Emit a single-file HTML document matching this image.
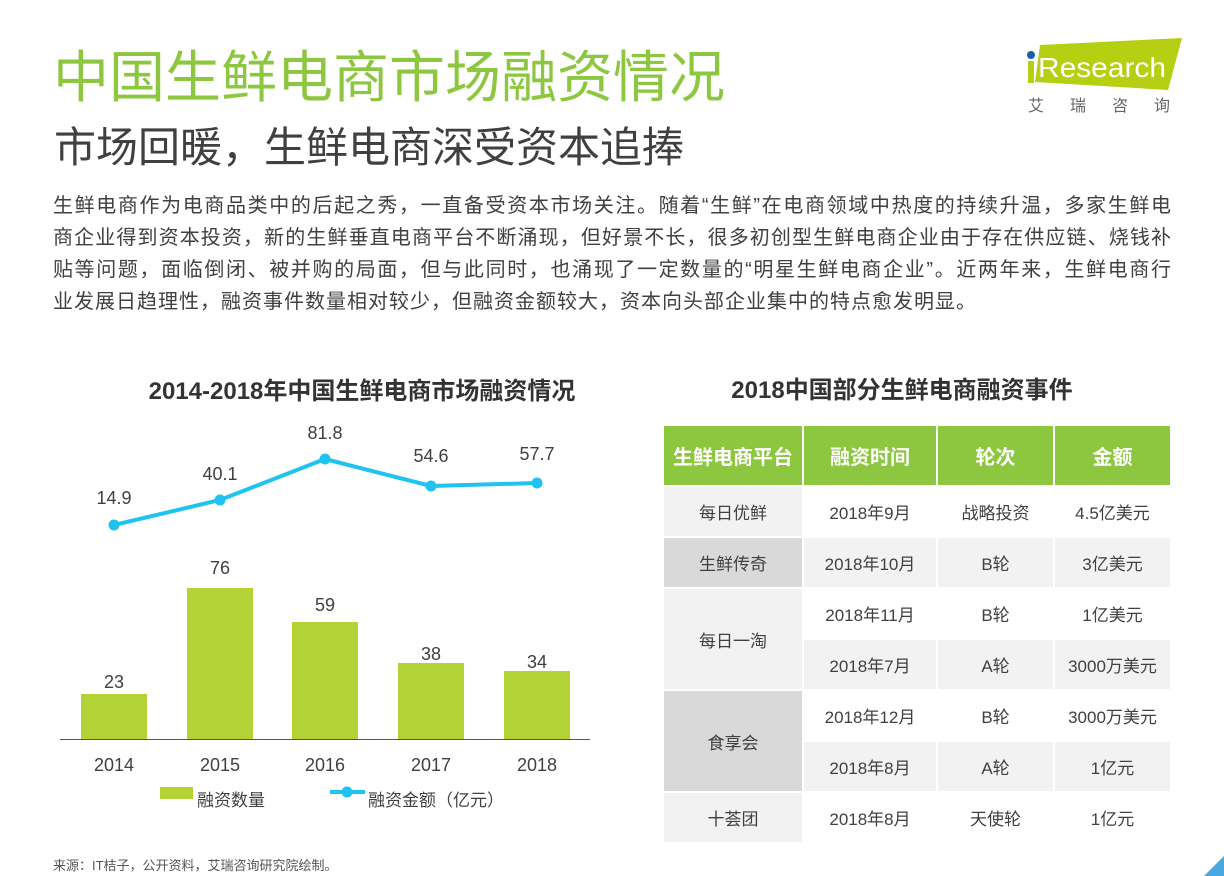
<!DOCTYPE html>
<html><head><meta charset="utf-8"><style>
*{margin:0;padding:0;box-sizing:border-box}
body{width:1224px;height:876px;background:#fff;position:relative;overflow:hidden;font-family:"Liberation Sans","Noto Sans CJK SC",sans-serif;color:#404040}
.abs{position:absolute;white-space:nowrap}
.title{left:53px;top:44px;font-size:56px;color:#8dc63f;line-height:68px}
.sub{left:54px;top:122px;font-size:42px;color:#404040;line-height:52px}
.para{left:53px;top:190px;width:1119px;font-size:20px;line-height:32px;color:#404040}
.para div{text-align:justify;text-align-last:justify;white-space:nowrap;letter-spacing:1px}
.para div.l{text-align-last:left}
.ct{font-size:24px;font-weight:bold;color:#333;text-align:center}
table{position:absolute;left:664px;top:426px;border-collapse:separate;border-spacing:2px 2px;margin:-2px}
td{text-align:center;font-size:17px;color:#404040;height:49px;padding:0}
th{background:#8dc63f;color:#fff;font-size:20px;font-weight:bold;height:59px;text-align:center}
.g1{background:#f2f2f2}.g2{background:#d9d9d9}.w{background:#fff}
</style></head><body>
<div class="abs title">中国生鲜电商市场融资情况</div>
<div class="abs sub">市场回暖，生鲜电商深受资本追捧</div>
<svg class="abs" style="left:1020px;top:30px" width="180" height="90">
<polygon points="20,15 162,8 148,60 15,52" fill="#b5cf12"/>
<circle cx="11" cy="25" r="4" fill="#1a5fa8"/>
<rect x="8" y="31" width="6" height="22" fill="#b5cf12"/>
<text x="18" y="47" font-family="Liberation Sans" font-size="28" fill="#fff" textLength="128" lengthAdjust="spacingAndGlyphs">Research</text>
<text x="8" y="81" font-family="Noto Sans CJK SC" font-size="16" fill="#666" letter-spacing="26">艾瑞咨询</text>
</svg>
<div class="abs para">
<div>生鲜电商作为电商品类中的后起之秀，一直备受资本市场关注。随着“生鲜”在电商领域中热度的持续升温，多家生鲜电</div>
<div>商企业得到资本投资，新的生鲜垂直电商平台不断涌现，但好景不长，很多初创型生鲜电商企业由于存在供应链、烧钱补</div>
<div>贴等问题，面临倒闭、被并购的局面，但与此同时，也涌现了一定数量的“明星生鲜电商企业”。近两年来，生鲜电商行</div>
<div class="l">业发展日趋理性，融资事件数量相对较少，但融资金额较大，资本向头部企业集中的特点愈发明显。</div>
</div>
<div class="abs ct" style="left:62px;width:600px;top:371px">2014-2018年中国生鲜电商市场融资情况</div>
<div class="abs ct" style="left:649px;width:506px;top:370px">2018中国部分生鲜电商融资事件</div>
<svg class="abs" style="left:0;top:0" width="640" height="876" font-family="Liberation Sans" font-size="18" fill="#404040" text-anchor="middle">
<g fill="#b2d235">
<rect x="81" y="694" width="66" height="45"/>
<rect x="187" y="588" width="66" height="151"/>
<rect x="292" y="622" width="66" height="117"/>
<rect x="398" y="663" width="66" height="76"/>
<rect x="504" y="671" width="66" height="68"/>
</g>
<line x1="60" y1="739.5" x2="590" y2="739.5" stroke="#555" stroke-width="1"/>
<text x="114" y="688">23</text><text x="220" y="574">76</text><text x="325" y="611">59</text><text x="431" y="660">38</text><text x="537" y="668">34</text>
<polyline points="114,525 220,500 325,459 431,486 537,483" fill="none" stroke="#1ec3ef" stroke-width="4"/>
<g fill="#1ec3ef"><circle cx="114" cy="525" r="5.5"/><circle cx="220" cy="500" r="5.5"/><circle cx="325" cy="459" r="5.5"/><circle cx="431" cy="486" r="5.5"/><circle cx="537" cy="483" r="5.5"/></g>
<text x="114" y="504">14.9</text><text x="220" y="480">40.1</text><text x="325" y="439">81.8</text><text x="431" y="462">54.6</text><text x="537" y="460">57.7</text>
<text x="114" y="771">2014</text><text x="220" y="771">2015</text><text x="325" y="771">2016</text><text x="431" y="771">2017</text><text x="537" y="771">2018</text>
<rect x="160" y="787" width="33" height="12" fill="#b2d235"/>
<text x="197" y="806" text-anchor="start" font-family="Noto Sans CJK SC" font-size="17">融资数量</text>
<line x1="330" y1="792" x2="365" y2="792" stroke="#1ec3ef" stroke-width="4"/>
<circle cx="347" cy="792" r="5.5" fill="#1ec3ef"/>
<text x="368" y="806" text-anchor="start" font-family="Noto Sans CJK SC" font-size="17">融资金额（亿元）</text>
</svg>
<table>
<tr><th style="width:138px">生鲜电商平台</th><th style="width:132px">融资时间</th><th style="width:115px">轮次</th><th style="width:115px">金额</th></tr>
<tr><td class="g1">每日优鲜</td><td class="w">2018年9月</td><td class="w">战略投资</td><td class="w">4.5亿美元</td></tr>
<tr><td class="g2">生鲜传奇</td><td class="g1">2018年10月</td><td class="g1">B轮</td><td class="g1">3亿美元</td></tr>
<tr><td class="g1" rowspan="2">每日一淘</td><td class="w">2018年11月</td><td class="w">B轮</td><td class="w">1亿美元</td></tr>
<tr><td class="g1">2018年7月</td><td class="g1">A轮</td><td class="g1">3000万美元</td></tr>
<tr><td class="g2" rowspan="2">食享会</td><td class="w">2018年12月</td><td class="w">B轮</td><td class="w">3000万美元</td></tr>
<tr><td class="g1">2018年8月</td><td class="g1">A轮</td><td class="g1">1亿元</td></tr>
<tr><td class="g1">十荟团</td><td class="w">2018年8月</td><td class="w">天使轮</td><td class="w">1亿元</td></tr>
</table>
<div class="abs" style="left:53px;top:855px;font-size:13px;color:#555">来源：IT桔子，公开资料，艾瑞咨询研究院绘制。</div>
<svg class="abs" style="left:1204px;top:856px" width="20" height="20"><polygon points="20,0 20,20 0,20" fill="#4aa8e0"/></svg>
</body></html>
